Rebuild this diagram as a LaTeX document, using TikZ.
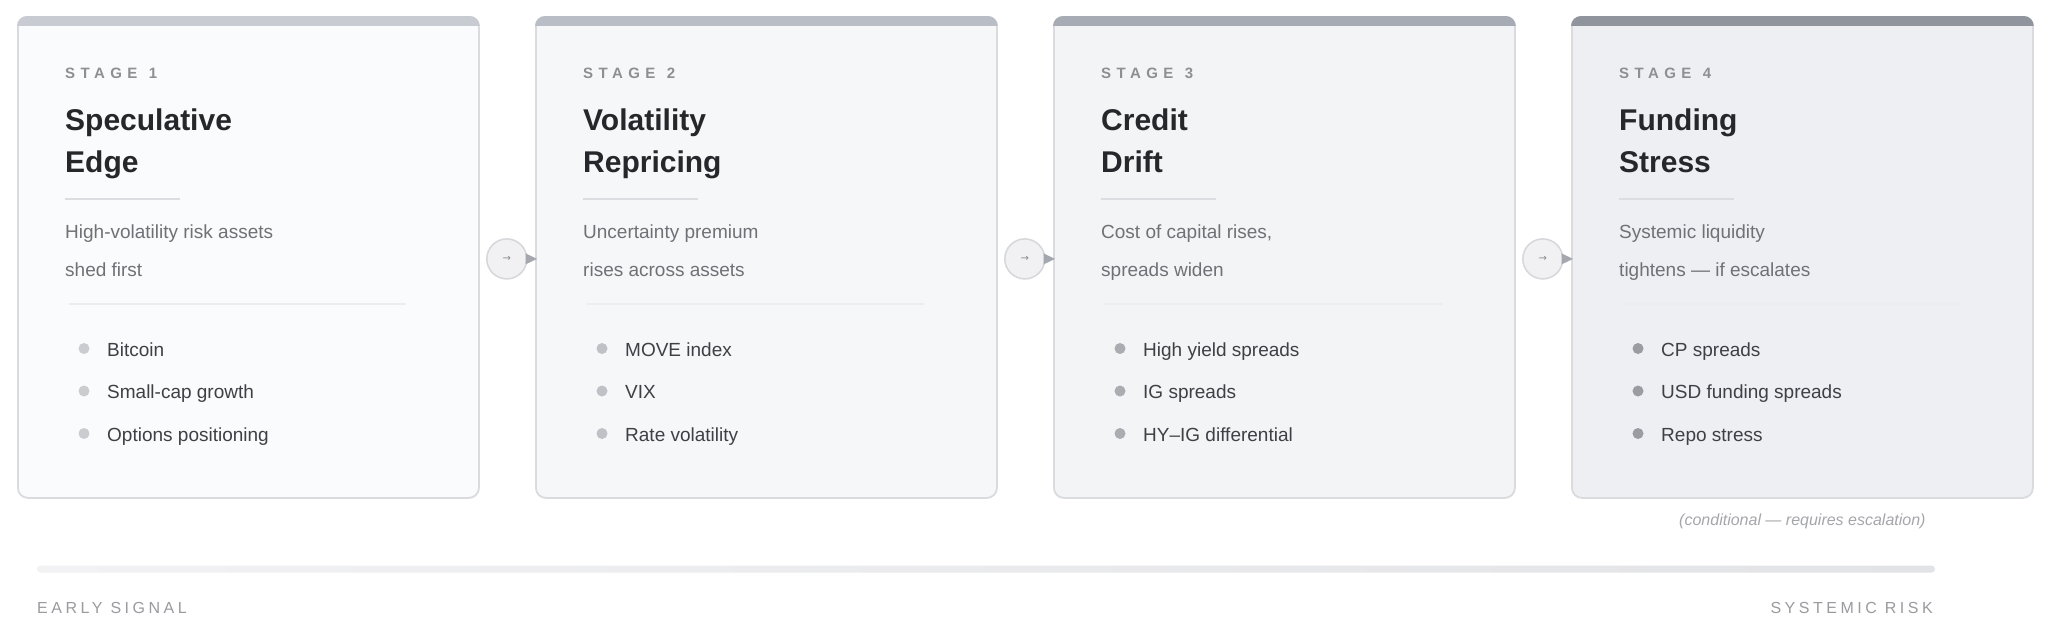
\documentclass[tikz,border=0pt]{standalone}
\usepackage{fontspec}
\setmainfont{Liberation Sans}
\newfontfamily\stagefont[LetterSpace=36]{Liberation Sans}
\newfontfamily\axisfont[LetterSpace=22]{Liberation Sans}
\newfontfamily\arrowfont{DejaVu Sans}
\usetikzlibrary{calc}

\definecolor{fill1}{HTML}{FAFBFC}
\definecolor{fill2}{HTML}{F6F7F9}
\definecolor{fill3}{HTML}{F3F4F6}
\definecolor{fill4}{HTML}{EEEFF2}
\definecolor{bar1}{HTML}{C8CCD2}
\definecolor{bar2}{HTML}{B9BDC5}
\definecolor{bar3}{HTML}{A6ABB4}
\definecolor{bar4}{HTML}{8F949D}
\definecolor{dot1}{HTML}{CACCD0}
\definecolor{dot2}{HTML}{BFC1C6}
\definecolor{dot3}{HTML}{AAACB1}
\definecolor{dot4}{HTML}{9A9CA2}
\definecolor{cardborder}{HTML}{D9DBDF}
\definecolor{stagegray}{HTML}{8E8F93}
\definecolor{titlecol}{HTML}{26272B}
\definecolor{desccol}{HTML}{707176}
\definecolor{itemcol}{HTML}{3F4045}
\definecolor{rulecol}{HTML}{DCDDE1}
\definecolor{sepcol}{HTML}{ECEDF0}
\definecolor{circfill}{HTML}{F1F1F3}
\definecolor{circborder}{HTML}{D6D7DB}
\definecolor{trigray}{HTML}{A4A7AD}
\definecolor{arrowgray}{HTML}{8A8C92}
\definecolor{condcol}{HTML}{A5A6AA}
\definecolor{axiscol}{HTML}{9A9B9F}
\definecolor{trackL}{HTML}{F2F2F4}
\definecolor{trackR}{HTML}{E2E3E6}

\newcommand{\mkstage}[8]{%
  \pgfmathsetmacro{\L}{17+518*(#1-1)}
  \node[card, fill=fill#1] (s#1) at (\L,16) {};
  \begin{scope}
    \clip[rounded corners=10pt] (s#1.north west) rectangle (s#1.south east);
    \fill[bar#1] (\L-2,14) rectangle (\L+463,26);
  \end{scope}
  \node[stagelbl] (st#1) at (\L+48,78) {STAGE\hspace{2pt} #1};
  \node[titlelbl] (ta#1) at (\L+48,130) {#2};
  \node[titlelbl] (tb#1) at (\L+48,172) {#3};
  \draw[rulecol, line width=2.2pt] (\L+48,199) -- (\L+163,199);
  \node[desclbl] (da#1) at (\L+48,238) {#4};
  \node[desclbl] (db#1) at (\L+48,276) {#5};
  \draw[sepcol, line width=1.2pt] (\L+52,304) -- (\L+389,304);
  \fill[dot#1] (\L+67,348.5) circle (5.5pt);
  \fill[dot#1] (\L+67,391) circle (5.5pt);
  \fill[dot#1] (\L+67,433.5) circle (5.5pt);
  \node[itemlbl] (ia#1) at (\L+90,356) {#6};
  \node[itemlbl] (ib#1) at (\L+90,398.5) {#7};
  \node[itemlbl] (ic#1) at (\L+90,441) {#8};
}

\begin{document}
\begin{tikzpicture}[x=1pt,y=-1pt,
  card/.style={draw=cardborder, line width=1.8pt, rounded corners=10pt,
    minimum width=461pt, minimum height=481pt, inner sep=0pt, anchor=north west},
  stagelbl/.style={inner sep=0pt, anchor=base west, text=stagegray,
    font=\stagefont\bfseries\fontsize{15}{18}\selectfont},
  titlelbl/.style={inner sep=0pt, anchor=base west, text=titlecol,
    font=\bfseries\fontsize{30}{36}\selectfont},
  desclbl/.style={inner sep=0pt, anchor=base west, text=desccol,
    font=\fontsize{19}{23}\selectfont},
  itemlbl/.style={inner sep=0pt, anchor=base west, text=itemcol,
    font=\fontsize{19}{23}\selectfont},
  circ/.style={circle, draw=circborder, fill=circfill, line width=1.5pt,
    minimum size=40pt, inner sep=0pt, text=arrowgray,
    font=\arrowfont\fontsize{10}{10}\selectfont},
  tri/.style={fill=trigray},
  condlbl/.style={inner sep=0pt, anchor=base, text=condcol,
    font=\itshape\fontsize{16}{19}\selectfont},
  axislbl/.style={inner sep=0pt, text=axiscol,
    font=\axisfont\fontsize{16}{19}\selectfont}
]
\useasboundingbox[fill=white] (0,0) rectangle (2056,632);

\mkstage{1}{Speculative}{Edge}{High-volatility risk assets}{shed first}{Bitcoin}{Small-cap growth}{Options positioning}
\mkstage{2}{Volatility}{Repricing}{Uncertainty premium}{rises across assets}{MOVE index}{VIX}{Rate volatility}
\mkstage{3}{Credit}{Drift}{Cost of capital rises,}{spreads widen}{High yield spreads}{IG spreads}{HY–IG differential}
\mkstage{4}{Funding}{Stress}{Systemic liquidity}{tightens — if escalates}{CP spreads}{USD funding spreads}{Repo stress}

% connectors
\node[circ] (a1) at ($(s1.east)+(27,1.5)$) {→};
\node[circ] (a2) at ($(s2.east)+(27,1.5)$) {→};
\node[circ] (a3) at ($(s3.east)+(27,1.5)$) {→};
\fill[tri] ($(a1.east)+(-2,-5.5)$) -- ($(a1.east)+(-2,5.5)$) -- ($(s2.west)+(2,1.5)$) -- cycle;
\fill[tri] ($(a2.east)+(-2,-5.5)$) -- ($(a2.east)+(-2,5.5)$) -- ($(s3.west)+(2,1.5)$) -- cycle;
\fill[tri] ($(a3.east)+(-2,-5.5)$) -- ($(a3.east)+(-2,5.5)$) -- ($(s4.west)+(2,1.5)$) -- cycle;

\node[condlbl] (cond) at ($(s4.south)+(0,27)$) {(conditional — requires escalation)};

% risk track
\coordinate (trackstart) at (37,569);
\coordinate (trackend) at (1935,569);
\shade[left color=trackL, right color=trackR, rounded corners=3.5pt]
  ($(trackstart)+(0,-3.5)$) rectangle ($(trackend)+(0,3.5)$);
\node[axislbl, anchor=base west] (early) at (37,613) {EARLY SIGNAL};
\node[axislbl, anchor=base east] (systemic) at (1933,613) {SYSTEMIC RISK};
\end{tikzpicture}
\end{document}
